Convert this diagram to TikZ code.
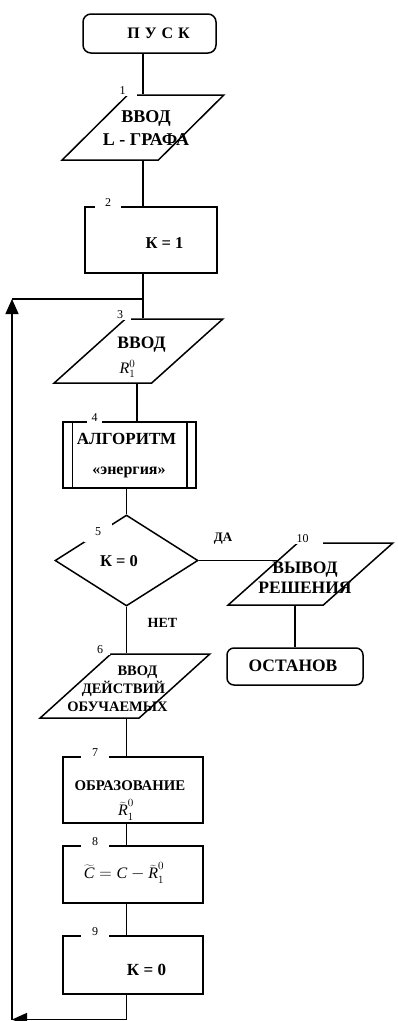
\documentclass[tikz,border=0pt]{standalone}
\usepackage{fontspec}
\setmainfont{Liberation Serif}
\usetikzlibrary{shapes.geometric,arrows.meta,calc}
\begin{document}
\begin{tikzpicture}[x=1pt,y=-1pt,line width=1.5pt,
  term/.style={draw,rectangle,rounded corners=8pt,inner sep=0pt},
  io/.style={draw,trapezium,trapezium stretches=true,inner sep=2pt},
  proc/.style={draw,rectangle,inner sep=0pt},
  dec/.style={draw,diamond,inner sep=0pt},
  num/.style={fill=white,inner xsep=0pt,inner ysep=2pt,anchor=south,
              font=\fontsize{12}{12}\selectfont},
  txt/.style={inner sep=0pt,align=center,font=\bfseries\fontsize{#1}{#1}\selectfont},
  txt/.default=18,
  mth/.style={inner sep=0pt,font=\fontsize{#1}{#1}\selectfont},
  tip/.style={-{Triangle[length=15pt,width=13pt]}}]
\useasboundingbox (0,0) rectangle (398,1021);

% axis positions of the vertical connectors
\coordinate (axA) at (143,0);
\coordinate (axB) at (137,0);
\coordinate (axC) at (126.5,0);

% blocks
\node[term,minimum width=133pt,minimum height=39pt] (pusk) at (149.5,33.5) {};
\node[io,trapezium left angle=62,trapezium right angle=118,
      minimum width=162pt,minimum height=65pt] (b1) at (143,127.5) {\strut};
\node[proc,minimum width=132pt,minimum height=66pt] (b2) at (151,240) {};
\node[io,trapezium left angle=56,trapezium right angle=124,
      minimum width=169pt,minimum height=64pt] (b3) at (138.5,351) {\strut};
\node[proc,minimum width=133pt,minimum height=66pt] (b4) at (129.5,455) {};
\draw ([xshift=10pt]b4.north west) -- ([xshift=10pt]b4.south west);
\draw ([xshift=-10pt]b4.north east) -- ([xshift=-10pt]b4.south east);
\node[dec,minimum width=143pt,minimum height=91pt] (b5) at (126.5,560.5) {};
\node[io,trapezium left angle=56,trapezium right angle=124,
      minimum width=165pt,minimum height=62pt] (b10) at (310.5,574) {\strut};
\node[term,rounded corners=7pt,minimum width=136pt,minimum height=37pt] (stop) at (295,666.5) {};
\node[io,trapezium left angle=58,trapezium right angle=122,
      minimum width=170pt,minimum height=64pt] (b6) at (125,686) {\strut};
\node[proc,minimum width=140pt,minimum height=66pt] (b7) at (133,790) {};
\node[proc,minimum width=140pt,minimum height=57pt] (b8) at (133,874.5) {};
\node[proc,minimum width=140pt,minimum height=58pt] (b9) at (133,965) {};

% connectors
\coordinate (jn) at (143,299);
\coordinate (lb) at (12,1019.5);
\coordinate (b10in) at ($(b10.bottom left corner)!0.71!(b10.top left corner)$);
\draw (pusk.south -| axA) -- (b1.north -| axA);
\draw (b1.south -| axA) -- (b2.north -| axA);
\draw (b2.south -| axA) -- (b3.north -| axA);
\draw (b3.south -| axB) -- (b4.north -| axB);
\draw (b4.south -| axC) -- (b5.north);
\draw (b5.east) -- (b5.east -| b10in);
\draw (b10.south -| stop.north) -- (stop.north);
\draw (b5.south) -- (b6.north -| b5.south);
\draw (b6.south -| axC) -- (b7.north -| axC);
\draw (b7.south -| axC) -- (b8.north -| axC);
\draw (b8.south -| axC) -- (b9.north -| axC);
\draw[tip] (b9.south -| axC) -- (axC |- lb) -- (lb);
\draw[tip] (lb) -- (lb |- jn);
\draw (lb |- jn) -- (jn);

% block numbers
\node[num,minimum width=29pt] (n1) at (122.5,97) {1};
\node[num,minimum width=26pt] (n2) at (108,209) {2};
\node[num,minimum width=22pt] (n3) at (120,321) {3};
\node[num,minimum width=15pt] (n4) at (94.5,424) {4};
\node[fill=white,inner sep=0pt,minimum width=28pt,minimum height=20pt,
      font=\fontsize{12}{12}\selectfont] (n5) at (98,532) {5};
\node[num,minimum width=41pt] (n10) at (302.5,545) {10};
\node[num,minimum width=20pt] (n6) at (100,656) {6};
\node[num,minimum width=28pt] (n7) at (95,759) {7};
\node[num,minimum width=28pt] (n8) at (95,848) {8};
\node[num,minimum width=28pt] (n9) at (95,938) {9};

% texts
\node[txt=16] (tpusk) at (158.5,33.5) {П\hspace{5pt}У\hspace{5pt}С\hspace{5pt}К};
\node[txt=18,font=\bfseries\fontsize{18}{23}\selectfont] (t1) at (146,128.5) {ВВОД\\L - ГРАФА};
\node[txt=16.5] (t2) at (164.5,243) {К = 1};
\node[txt=17.5] (t3) at (141.5,345) {ВВОД};
\node[mth=16] (t3r) at (127.5,369) {$\textit{R}_1^0$};
\node[txt=17] (t4a) at (126.5,439) {АЛГОРИТМ};
\node[txt=16] (t4b) at (129,472) {«энергия»};
\node[txt=16.5] (t5) at (119,561) {К = 0};
\node[txt=13] (yes) at (223,539) {ДА};
\node[txt=14] (no) at (162.5,623) {НЕТ};
\node[txt=17.5,font=\bfseries\fontsize{17.5}{20}\selectfont] (t10) at (305,578) {ВЫВОД\\РЕШЕНИЯ};
\node[txt=17.5] (tstop) at (293,666) {ОСТАНОВ};
\node[txt=14.5] (t6a) at (137.5,672) {ВВОД};
\node[txt=14.5] (t6b) at (123.5,689) {ДЕЙСТВИЙ};
\node[txt=14.5] (t6c) at (117.5,707) {ОБУЧАЕМЫХ};
\node[txt=14.8] (t7a) at (130,786) {ОБРАЗОВАНИЕ};
\node[mth=16] (t7b) at (126,810) {$\widetilde{\textit{R}}_1^0$};
\node[mth=16] (t8) at (124,873) {$\widetilde{\textit{C}} = \textit{C} - \widetilde{\textit{R}}_1^0$};
\node[txt=17] (t9) at (146.5,970) {К = 0};
\end{tikzpicture}
\end{document}
